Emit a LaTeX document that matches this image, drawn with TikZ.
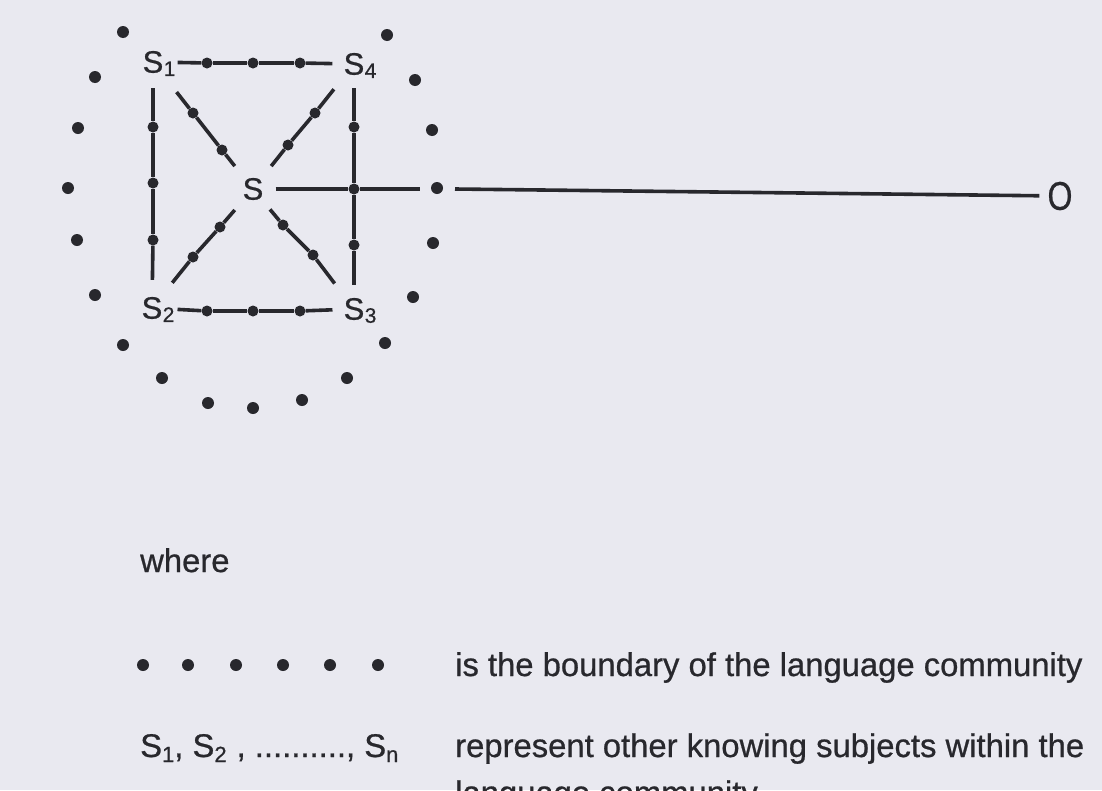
\documentclass[tikz,border=0pt]{standalone}
\usepackage{fontspec}
\setmainfont{Liberation Sans}[FakeBold=0.7]
\definecolor{paper}{RGB}{233,233,240}
\definecolor{ink}{RGB}{40,40,45}
\newcommand\lsub[1]{\raisebox{-5pt}{\fontsize{22}{22}\selectfont #1}}
\begin{document}
\begin{tikzpicture}[x=1pt,y=-1pt,
  bdot/.style={circle,fill=ink,inner sep=0pt,minimum size=12pt},
  ldot/.style={circle,fill=ink,inner sep=0pt,minimum size=11pt},
  subj/.style={inner sep=0pt,text=ink,font=\fontsize{31}{31}\selectfont},
  subl/.style={inner sep=0pt,text=ink,font=\fontsize{21}{21}\selectfont,anchor=south west,yshift=-3pt},
  conn/.style={draw=ink,line width=3.6pt},
  txt/.style={inner sep=0pt,text=ink,anchor=base west,font=\fontsize{32.8}{40}\selectfont}]
\useasboundingbox (0,0) rectangle (1102,790);
\fill[paper] (0,0) rectangle (1102,790);
\begin{scope}
\clip (0,0) rectangle (1102,790);
% knowing subjects
\node[subj] (S1) at (153,62) {S};
\node[subj] (S4) at (354,64) {S};
\node[subj] (S)  at (253,189) {S};
\node[subj] (S2) at (152,308) {S};
\node[subj] (S3) at (354,309) {S};
\node[subl] (S1s) at (S1.south east) {1};
\node[subl] (S4s) at (S4.south east) {4};
\node[subl] (S2s) at (S2.south east) {2};
\node[subl] (S3s) at (S3.south east) {3};
\node[inner sep=0pt,text=ink,font=\fontsize{40}{40}\selectfont] (O) at (1060,196) {\scalebox{0.8}[1]{O}};
% dots on the connections
\node[ldot] (t1) at (207,63) {};
\node[ldot] (t2) at (253,63) {};
\node[ldot] (t3) at (300,63) {};
\node[ldot] (b1) at (207,311) {};
\node[ldot] (b2) at (253,311) {};
\node[ldot] (b3) at (300,311) {};
\node[ldot] (l1) at (153,127) {};
\node[ldot] (l2) at (153,183) {};
\node[ldot] (l3) at (153,240) {};
\node[ldot] (r1) at (354,127) {};
\node[ldot] (r2) at (354,189) {};
\node[ldot] (r3) at (354,245) {};
\node[ldot] (a1) at (193,113) {};
\node[ldot] (a2) at (222,150) {};
\node[ldot] (c1) at (315,113) {};
\node[ldot] (c2) at (288,145) {};
\node[ldot] (e1) at (193,257) {};
\node[ldot] (e2) at (220,227) {};
\node[ldot] (f1) at (313,255) {};
\node[ldot] (f2) at (283,225) {};
% boundary of the language community
\node[bdot] (bd1) at (123,32) {};
\node[bdot] (bd2) at (387,35) {};
\node[bdot] (bd3) at (95,77) {};
\node[bdot] (bd4) at (415,80) {};
\node[bdot] (bd5) at (78,128) {};
\node[bdot] (bd6) at (432,130) {};
\node[bdot] (bd7) at (68,188) {};
\node[bdot] (bd8) at (437,188) {};
\node[bdot] (bd9) at (77,240) {};
\node[bdot] (bd10) at (433,243) {};
\node[bdot] (bd11) at (95,295) {};
\node[bdot] (bd12) at (413,297) {};
\node[bdot] (bd13) at (123,345) {};
\node[bdot] (bd14) at (385,343) {};
\node[bdot] (bd15) at (162,378) {};
\node[bdot] (bd16) at (347,378) {};
\node[bdot] (bd17) at (208,403) {};
\node[bdot] (bd18) at (253,408) {};
\node[bdot] (bd19) at (302,400) {};
\coordinate (g) at (420,189);
\coordinate (h) at (455,189);
% connections: S1 -- S4
\draw[conn,shorten <=14pt] (S1) -- (t1);
\draw[conn] (t1) -- (t2);
\draw[conn] (t2) -- (t3);
\draw[conn,shorten >=11pt] (t3) -- (S4);
% S2 -- S3
\draw[conn,shorten <=15pt] (S2) -- (b1);
\draw[conn] (b1) -- (b2);
\draw[conn] (b2) -- (b3);
\draw[conn,shorten >=11pt] (b3) -- (S3);
% S1 -- S2
\draw[conn,shorten <=15pt] (S1) -- (l1);
\draw[conn] (l1) -- (l2);
\draw[conn] (l2) -- (l3);
\draw[conn,shorten >=17pt] (l3) -- (S2);
% S4 -- S3
\draw[conn,shorten <=13pt] (S4) -- (r1);
\draw[conn] (r1) -- (r2);
\draw[conn] (r2) -- (r3);
\draw[conn,shorten >=13pt] (r3) -- (S3);
% diagonals
\draw[conn,shorten <=24pt] (S1) -- (a1);
\draw[conn] (a1) -- (a2);
\draw[conn,shorten >=15pt] (a2) -- (S);
\draw[conn,shorten <=18pt] (S4) -- (c1);
\draw[conn] (c1) -- (c2);
\draw[conn,shorten >=15pt] (c2) -- (S);
\draw[conn,shorten <=18pt] (S2) -- (e1);
\draw[conn] (e1) -- (e2);
\draw[conn,shorten >=13pt] (e2) -- (S);
\draw[conn,shorten <=18pt] (S3) -- (f1);
\draw[conn] (f1) -- (f2);
\draw[conn,shorten >=12pt] (f2) -- (S);
% S -- O
\draw[conn,shorten <=12pt] (S) -- (r2);
\draw[conn] (r2) -- (g);
\draw[conn,shorten >=8pt] (h) -- (O);
% legend
\node[txt] (where) at (140,572) {where};
\node[bdot] (k1) at (143,665) {};
\node[bdot] (k2) at (188,665) {};
\node[bdot] (k3) at (236,665) {};
\node[bdot] (k4) at (283,665) {};
\node[bdot] (k5) at (330,665) {};
\node[bdot] (k6) at (378,665) {};
\node[txt] (bnd) at (455,676) {is the boundary of the language community};
\node[txt] (slist) at (140,757) {S\lsub{1}, S\lsub{2}\kern10pt, .........., S\lsub{n}};
\node[txt] (rep) at (455,757) {represent other knowing subjects within the};
\node[txt] (lc) at (455,804) {language community};
\end{scope}
\end{tikzpicture}
\end{document}
